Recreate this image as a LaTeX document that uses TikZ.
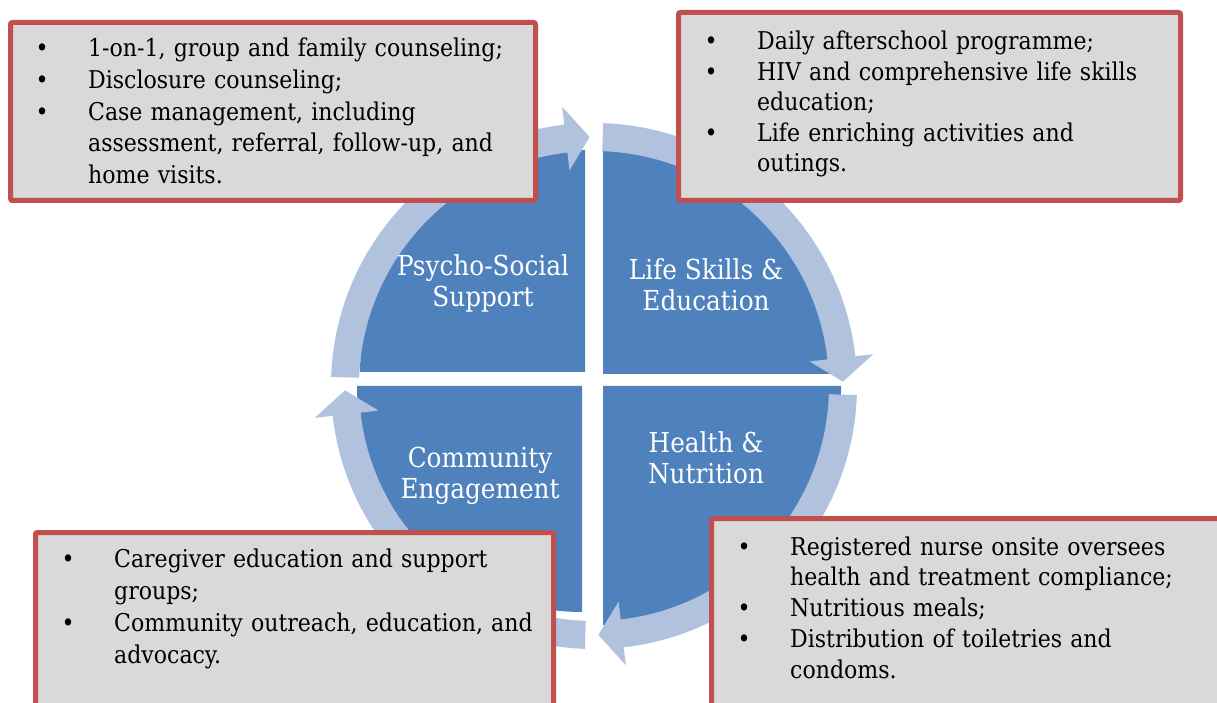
\documentclass[tikz,border=0pt]{standalone}
\usepackage{fontspec}
\setmainfont{DejaVu Serif Condensed}
\definecolor{quadblue}{HTML}{4F81BD}
\definecolor{ringblue}{HTML}{B1C2DE}
\definecolor{boxred}{HTML}{C0504D}
\definecolor{boxgrey}{HTML}{D9D9D9}
% one bullet line, bullet hung 46pt left of the text
\newcommand{\bitem}[1]{\par\noindent\strut\llap{\makebox[92pt]{\textbullet}}#1}

\begin{document}
\begin{tikzpicture}[x=1pt, y=1pt,
    quadrant/.style={fill=quadblue},
    ringarrow/.style={fill=ringblue},
    infobox/.style={draw=boxred, line width=5pt, fill=boxgrey, rounded corners=2pt, outer sep=0pt, inner sep=0pt, anchor=north west},
    boxtext/.style={anchor=north west, inner sep=0pt, text width=470pt, align=left, font=\fontsize{24.5}{#1}\selectfont},
    boxtext/.default=31.5,
    quadlabel/.style={text=white, align=center, inner sep=0pt, font=\fontsize{27.5}{31}\selectfont}]

    \useasboundingbox (0,0) rectangle (1217,702);
    \clip (0,0) rectangle (1217,702);

    % the four quarter discs
    \fill[quadrant] (585,330) -- ++(-225,0) arc[start angle=180, end angle=90, x radius=225, y radius=222] -- cycle;
    \fill[quadrant] (603,328) -- ++(0,224) arc[start angle=90, end angle=0, x radius=238, y radius=224] -- cycle;
    \fill[quadrant] (603,316) -- ++(238,0) arc[start angle=0, end angle=-90, x radius=238, y radius=239] -- cycle;
    \fill[quadrant] (582,316) -- ++(0,-226) arc[start angle=270, end angle=180, x radius=225, y radius=226] -- cycle;

    % ring of curved arrows, running clockwise
    \begin{scope}[shift={(594,316)}]
        \foreach \s in {180,90,0,-90}
            \fill[ringarrow] (\s-2:235) arc[start angle=\s-2, end angle=\s-83.5, radius=235]
                -- (\s-83.5:217) -- (\s-89:249) -- (\s-83.5:281) -- (\s-83.5:263)
                arc[start angle=\s-83.5, end angle=\s-2, radius=263] -- cycle;
    \end{scope}

    \node[quadlabel] (psych) at (483,419) {Psycho-Social\\Support};
    \node[quadlabel] (life) at (706,417) {Life Skills \&\\Education};
    \node[quadlabel] (comm) at (480,226) {Community\\Engagement};
    \node[quadlabel] (health) at (706,244) {Health \&\\Nutrition};

    % grey boxes with the bullet lists
    \node[infobox, minimum width=525pt, minimum height=178pt] (psychbox) at (10.5,679.5) {};
    \node[infobox, minimum width=502pt, minimum height=188pt] (lifebox) at (678.5,689.5) {};
    \node[infobox, minimum width=518pt, minimum height=180pt] (commbox) at (35.5,169.5) {};
    \node[infobox, minimum width=530pt, minimum height=194pt] (healthbox) at (711.5,183.5) {};

    \node[boxtext=31.7] (psychlist) at (88,677) {%
        \bitem{1-on-1, group and family counseling;}
        \bitem{Disclosure counseling;}
        \bitem{Case management, including\\assessment, referral, follow-up, and\\home visits.}};
    \node[boxtext=30.5] (lifelist) at (757,683) {%
        \bitem{Daily afterschool programme;}
        \bitem{HIV and comprehensive life skills\\education;}
        \bitem{Life enriching activities and\\outings.}};
    \node[boxtext=31.7] (commlist) at (114,166) {%
        \bitem{Caregiver education and support\\groups;}
        \bitem{Community outreach, education, and\\advocacy.}};
    \node[boxtext=30.8] (healthlist) at (790,178) {%
        \bitem{Registered nurse onsite oversees\\health and treatment compliance;}
        \bitem{Nutritious meals;}
        \bitem{Distribution of toiletries and\\condoms.}};
\end{tikzpicture}
\end{document}
